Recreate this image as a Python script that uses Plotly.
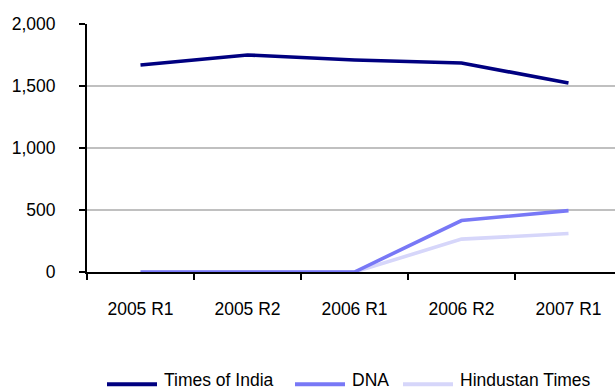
import plotly.graph_objects as go

# Survey rounds (categories on the x axis)
rounds = ["2005 R1", "2005 R2", "2006 R1", "2006 R2", "2007 R1"]

# Readership figures per title
times_of_india = [1670, 1750, 1710, 1685, 1525]
dna = [0, 0, 0, 415, 495]
hindustan_times = [0, 0, 0, 265, 310]

series_names = ["Times of India", "DNA", "Hindustan Times"]
series_values = [times_of_india, dna, hindustan_times]
series_colors = ["#000080", "#7878F6", "#D6D6FA"]

y_ticks = [0, 500, 1000, 1500, 2000]

W, H = 615, 391
ML, MR, MT, MB = 87, 0, 24, 118.5
plot_w = W - ML - MR
plot_h = H - MT - MB
cat_w = 107.0

FONT = "Liberation Sans, Arial, sans-serif"
FSIZE = 17.5

fig = go.Figure()
for name, vals, col in zip(series_names, series_values, series_colors):
    fig.add_trace(go.Scatter(
        x=rounds, y=vals, mode="lines", name=name,
        line=dict(color=col, width=3.6),
        showlegend=False, hoverinfo="skip",
    ))

# Bring the dark series to the front
fig.data = fig.data[::-1]


def px_to_paper_x(px):
    return (px - ML) / plot_w


def px_to_paper_y(py):
    return (H - MB - py) / plot_h


# Hand-drawn legend row below the axis
legend_y = 385
legend_items = [(107, "Times of India"), (295, "DNA"), (403, "Hindustan Times")]
shapes = []
annotations = []
for (lx, name), col in zip(legend_items, series_colors):
    shapes.append(dict(
        type="line", xref="paper", yref="paper",
        x0=px_to_paper_x(lx), x1=px_to_paper_x(lx + 50),
        y0=px_to_paper_y(legend_y), y1=px_to_paper_y(legend_y),
        line=dict(color=col, width=4),
    ))
    annotations.append(dict(
        xref="paper", yref="paper",
        x=px_to_paper_x(lx + 55), y=px_to_paper_y(legend_y - 4),
        xanchor="left", yanchor="middle", showarrow=False,
        text=name, font=dict(family=FONT, size=FSIZE, color="#000000"),
    ))

fig.update_layout(
    width=W, height=H,
    margin=dict(l=ML, r=MR, t=MT, b=MB, pad=0),
    paper_bgcolor="white", plot_bgcolor="white",
    font=dict(family=FONT, size=FSIZE, color="#000000"),
    showlegend=False,
    shapes=shapes,
    annotations=annotations,
    xaxis=dict(
        type="category",
        range=[-0.5, -0.5 + plot_w / cat_w],
        tickson="boundaries",
        ticks="outside", ticklen=6, tickwidth=2, tickcolor="#000000",
        showline=True, linecolor="#000000", linewidth=2,
        showgrid=False, zeroline=False,
        ticklabelstandoff=20,
    ),
    yaxis=dict(
        range=[0, 2000],
        tickvals=y_ticks, tickformat=",d",
        ticks="outside", ticklen=6, tickwidth=2, tickcolor="#000000",
        showline=True, linecolor="#000000", linewidth=2,
        showgrid=True, gridcolor="#C0C0C0", gridwidth=2,
        zeroline=False,
        ticklabelstandoff=20,
    ),
)

fig.write_html("out.html")
